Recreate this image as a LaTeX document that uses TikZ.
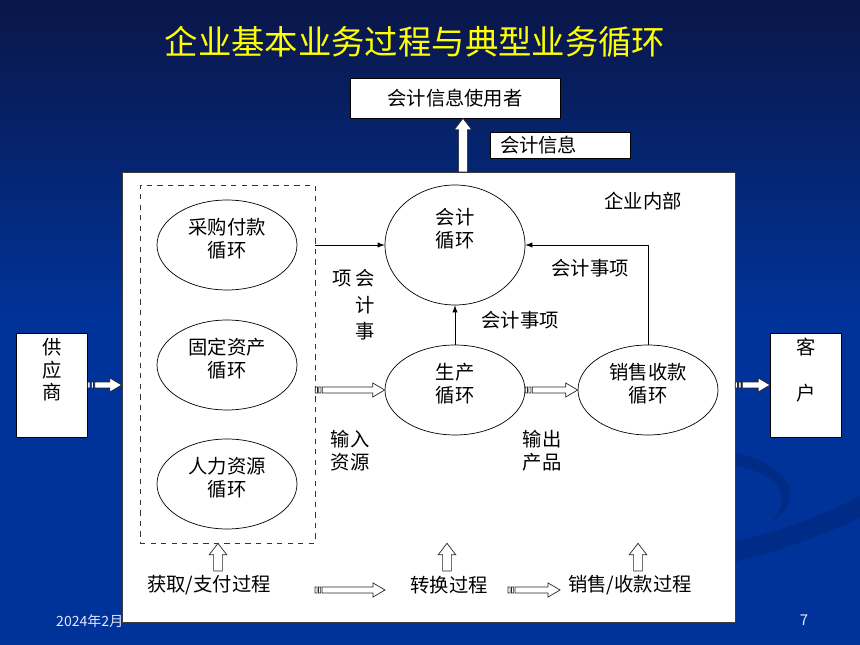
\documentclass[tikz,border=0pt]{standalone}
\usepackage{fontspec}
\setmainfont{Noto Sans CJK SC}
\usetikzlibrary{arrows,calc,shapes.geometric}
\definecolor{navytop}{RGB}{10,22,72}
\definecolor{slideblue}{RGB}{0,51,153}
\definecolor{swoosh}{RGB}{0,44,136}
\definecolor{frame}{RGB}{60,60,60}
\definecolor{titleyellow}{RGB}{255,255,0}

\begin{document}
\begin{tikzpicture}[x=0.02cm,y=-0.02cm,
   every node/.style={font=\fontsize{11}{13}\selectfont},
   cyc/.style={ellipse,draw,thin,minimum width=2.8cm,minimum height=1.8cm,inner sep=0pt,align=center,text depth=8.5pt},
   box/.style={rectangle,draw,fill=white,thin,inner sep=0pt},
   txt/.style={align=center,inner sep=0pt},
   stripe/.style={draw=black!85,fill=white,line width=0.4pt,
     to path={let \p1=(\tikztostart), \p2=(\tikztotarget) in
       (\x1,\y1+1.7pt) rectangle (\x1+1.2pt,\y1-1.7pt)
       (\x1+2pt,\y1+1.7pt) rectangle (\x1+3.2pt,\y1-1.7pt)
       (\x1+4pt,\y1+1.7pt) -- (\x2-6.8pt,\y1+1.7pt) -- (\x2-6.8pt,\y1+4pt)
       -- (\x2,\y1) -- (\x2-6.8pt,\y1-4pt) -- (\x2-6.8pt,\y1-1.7pt)
       -- (\x1+4pt,\y1-1.7pt) -- cycle}},
   uparr/.style={draw=black!85,fill=white,line width=0.4pt,
     to path={let \p1=(\tikztostart), \p2=(\tikztotarget) in
       (\x1-2.5pt,\y1) -- (\x1-2.5pt,\y2-6.5pt) -- (\x1-5pt,\y2-6.5pt)
       -- (\x1,\y2) -- (\x1+5pt,\y2-6.5pt) -- (\x1+2.5pt,\y2-6.5pt)
       -- (\x1+2.5pt,\y1) -- cycle}}]
   \path[use as bounding box] (0,0) rectangle (860,645);
   % background
   \shade[top color=navytop,bottom color=slideblue] (0,0) rectangle (860,320);
   \fill[slideblue] (0,319) rectangle (860,645);
   \fill[swoosh] (735,562) .. controls (790,548) and (830,532) .. (860,518)
      -- (860,496) .. controls (830,512) and (790,528) .. (735,542) -- cycle;
   \fill[swoosh] (735,452) .. controls (795,468) and (805,500) .. (772,522)
      .. controls (792,496) and (782,474) .. (735,466) -- cycle;
   \node[font=\fontsize{19}{22}\selectfont,text=titleyellow] (title) at (415,42) {企业基本业务过程与典型业务循环};
   \node[font=\fontsize{8}{10}\selectfont,text=white!90!blue,anchor=west] (date) at (50,621) {2024年2月};
   \node[font=\fontsize{8.5}{10}\selectfont,text=white!90!blue] (page) at (804,620) {7};
   % outside boxes
   \node[box,minimum width=4.2cm,minimum height=0.8cm] (user) at (455,98) {会计信息使用者};
   \node[box,minimum height=0.52cm,text width=2.4cm,inner xsep=0.2cm,align=left] (info) at (560,145) {会计信息};
   \node[box,minimum width=1.42cm,minimum height=2.08cm,
      label={[txt,anchor=north,yshift=-0.1cm]north:供\\应\\商}] (sup) at (52,385) {};
   \node[box,minimum width=1.42cm,minimum height=2.08cm,
      label={[txt,anchor=north,yshift=-0.1cm]north:客\\[13pt]户}] (cus) at (806,385) {};
   % enterprise panel
   \node[rectangle,draw=frame,fill=white,minimum width=12.26cm,minimum height=9cm] (ent) at (428.5,397) {};
   \node[rectangle,draw=black!80,dashed,thin,minimum width=3.5cm,minimum height=7.16cm] (dash) at (227.5,364) {};
   \node[txt] (inside) at (643,201) {企业内部};
   % cycles
   \node[cyc] (buy) at (227,245) {采购付款\\循环};
   \node[cyc] (fix) at (227,365) {固定资产\\循环};
   \node[cyc] (hum) at (227,484) {人力资源\\循环};
   \node[cyc,minimum height=2.4cm,label={[txt,yshift=0.32cm]center:会计\\循环}] (acc) at (455,245) {};
   \node[cyc] (pro) at (455,390) {生产\\循环};
   \node[cyc] (sal) at (648,390) {销售收款\\循环};
   % labels
   \node[txt,align=right] (item1) at (354,305) {项\hspace{2pt}会\\[2pt]计\\[2pt]事};
   \node[txt] (item2) at (520,320) {会计事项};
   \node[txt] (item3) at (590,268) {会计事项};
   \node[txt] (inres) at (350,451) {输入\\资源};
   \node[txt] (outprd) at (542,451) {输出\\产品};
   \node[txt] (get) at (209,585) {获取/支付过程};
   \node[txt] (conv) at (449,585) {转换过程};
   \node[txt] (sell) at (630,585) {销售/收款过程};
   % connectors
   \draw[-latex] (dash.east |- acc.west) -- (acc.west);
   \draw[-latex] (pro.north) -- (acc.south);
   \draw[-latex] (sal.north) |- (acc.east);
   \draw[stripe] (sup.east) to (ent.west |- sup.east);
   \draw[stripe] (dash.east |- pro.west) to (pro.west);
   \draw[stripe] (pro.east) to (sal.west);
   \draw[stripe] (ent.east |- cus.west) to (cus.west);
   \coordinate (g1) at (315,590);
   \coordinate (c1) at (385,590);
   \coordinate (c2) at (508,590);
   \coordinate (s2) at (560,590);
   \draw[stripe] (g1) to (c1);
   \draw[stripe] (c2) to (s2);
   \coordinate (upfoot) at (463,172);
   \draw[uparr] (upfoot) to (upfoot |- user.south);
   \coordinate (u1) at (218,571);
   \coordinate (u2) at (447,571);
   \coordinate (u3) at (638,571);
   \draw[uparr] (u1) to (u1 |- dash.south);
   \draw[uparr] (u2) to (u2 |- dash.south);
   \draw[uparr] (u3) to (u3 |- dash.south);
\end{tikzpicture}
\end{document}
